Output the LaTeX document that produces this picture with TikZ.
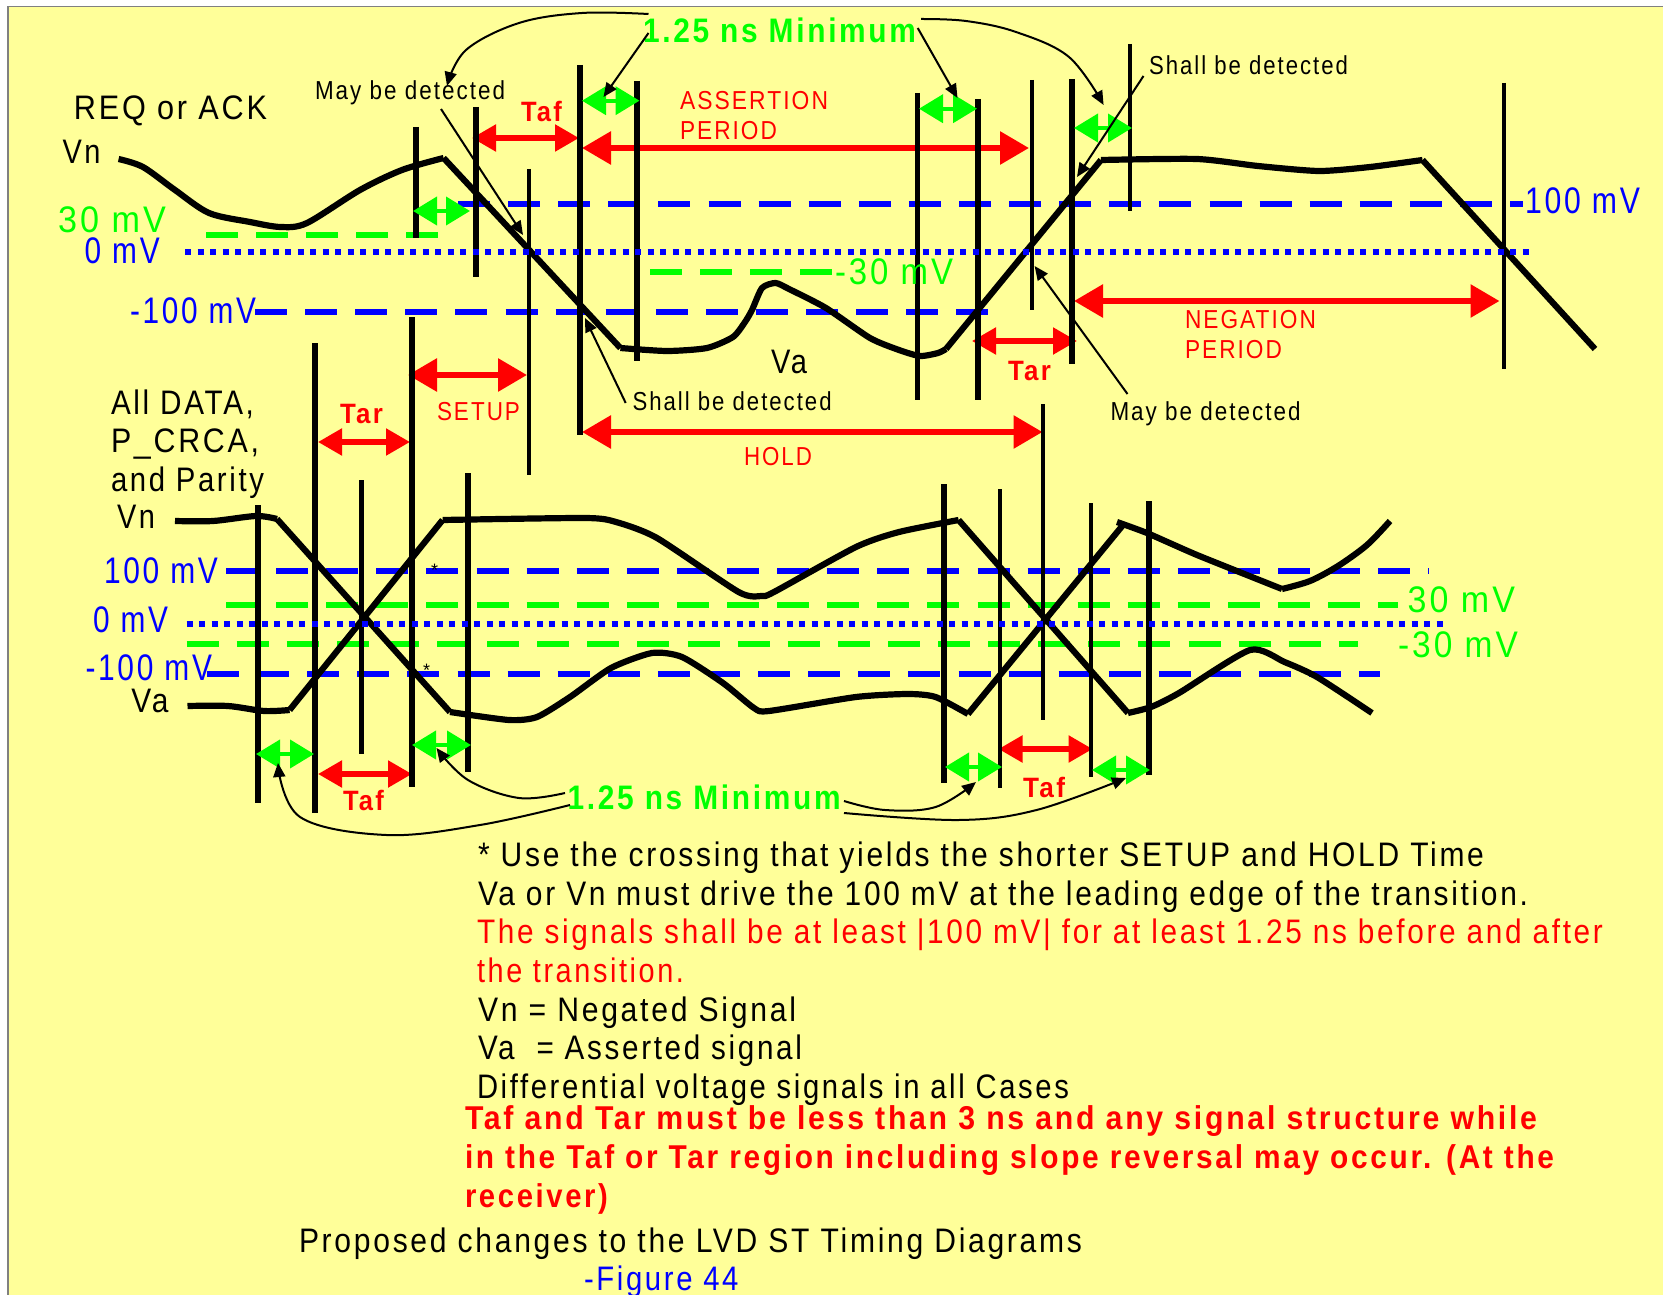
\documentclass[tikz,border=0pt]{standalone}
\usepackage{fontspec}
\usepackage{graphicx}
\usetikzlibrary{arrows.meta}
\setmainfont{Liberation Sans}
\newfontfamily\sigfont{Liberation Sans}[LetterSpace=9]
\newcommand{\fxl}{\sigfont\fontsize{37}{40}\selectfont}
\newcommand{\fl}{\sigfont\fontsize{34}{36}\selectfont}
\newcommand{\fm}{\sigfont\fontsize{26}{28}\selectfont}
\newcommand{\fbl}{\sigfont\bfseries\fontsize{34}{36}\selectfont}
\newcommand{\fbm}{\sigfont\bfseries\fontsize{28}{32}\selectfont}
\newcommand{\fbt}{\sigfont\bfseries\fontsize{33}{36}\selectfont}
\definecolor{paper}{HTML}{FFFF99}
\definecolor{bluel}{HTML}{0000FF}
\definecolor{greenl}{HTML}{00FF00}
\definecolor{redl}{HTML}{FF0000}
\tikzset{
  txt/.style={anchor=base west,inner sep=0pt,outer sep=0pt},
  bluedash/.style={draw=bluel,line width=6.5pt,dash pattern=on 32pt off 18.1pt},
  greendash/.style={draw=greenl,line width=6pt,dash pattern=on 32pt off 18.1pt},
  bluedot/.style={draw=bluel,line width=5.5pt,dash pattern=on 6.3pt off 6.2pt},
  vthick/.style={draw=black,line width=5.5pt},
  vmid/.style={draw=black,line width=4.3pt},
  vthin/.style={draw=black,line width=3.5pt},
  sig/.style={draw=black,line width=6.2pt,line join=round},
  greenarr/.style={draw=greenl,line width=4pt,{Triangle[length=24pt,width=28pt]}-{Triangle[length=24pt,width=28pt]}},
  redsm/.style={draw=redl,line width=5.3pt,{Triangle[length=24pt,width=26pt]}-{Triangle[length=24pt,width=26pt]}},
  redbig/.style={draw=redl,line width=6pt,{Triangle[length=29pt,width=32pt]}-{Triangle[length=29pt,width=32pt]}},
  callout/.style={draw=black,line width=2pt,-{Triangle[length=14pt,width=12pt]}},
}
\newcommand{\tl}[7]{\node[txt,text=#6] (#1) at (#2,#3) {\resizebox{#4pt}{\height}{#5#7}};}
\begin{document}
\begin{tikzpicture}[x=1pt,y=-1pt]
\useasboundingbox (0,0) rectangle (1663,1295);
\fill[white] (0,0) rectangle (1663,1295);
\fill[paper] (8,7) rectangle (1663,1295);
\draw[gray,line width=1.6pt] (8,1295) -- (8,6.5) -- (1663,6.5);

% dashed levels, top
\draw[greendash] (206,234.5) -- (438,234.5);
\draw[greendash] (650,272) -- (833,272);
\draw[bluedash] (458,204) -- (1523,204);
\draw[bluedash] (255,312) -- (988,312);
% dashed levels, bottom
\draw[bluedash] (226,571) -- (1429,571);
\draw[greendash] (226,605) -- (1398,605);
\draw[greendash] (186.5,644) -- (1358,644);
\draw[bluedash] (207,674) -- (1380,674);

% red spans
\draw[redsm] (472,138) -- (579,138);
\draw[redbig] (582,148) -- (1029,148);
\draw[redbig] (408,375) -- (527,375);
\draw[redsm] (318,442) -- (410,442);
\draw[redbig] (582,432) -- (1042.5,432);
\draw[redbig] (1074,301) -- (1499.5,301);
\draw[redsm] (972,341) -- (1077,341);
\draw[redsm] (318,774) -- (412,774);
\draw[redsm] (998.5,749) -- (1092.6,749);

% verticals, top
\draw[vthick] (416,127) -- (416,238);
\draw[vthick] (476,107) -- (476,277);
\draw[vthin] (529,169) -- (529,475);
\draw[vthick] (580,65) -- (580,435);
\draw[vthick] (637,81) -- (637,361);
\draw[vthick] (917.7,93) -- (917.7,400);
\draw[vthick] (978,99) -- (978,400);
\draw[vthin] (1032,80) -- (1032,310);
\draw[vthick] (1072,79) -- (1072,364);
\draw[vthin] (1130,44) -- (1130,211);
\draw[vthin] (1504,83) -- (1504,369);
\draw[vthin] (1043,404) -- (1043,720);
% verticals, bottom
\draw[vthick] (315,343) -- (315,813);
\draw[vthick] (412,317) -- (412,787);
\draw[vthick] (258,505) -- (258,803);
\draw[vmid] (361.5,480) -- (361.5,754);
\draw[vthick] (468,473) -- (468,772);
\draw[vthick] (944,484) -- (944,783);
\draw[vmid] (1000,489) -- (1000,788);
\draw[vmid] (1091,503) -- (1091,777);
\draw[vthick] (1149,501) -- (1149,775);

% signals, top
\draw[sig] plot[smooth,tension=.5] coordinates {(118.6,159) (143,167) (175,190) (209,213) (250,222) (280.6,227) (307,223) (360,190) (402,170) (443.6,158)};
\draw[sig] (443.6,158) -- (620.4,348);
\draw[sig] plot[smooth,tension=.4] coordinates {(620.4,348) (667,351) (707,348) (733,337) (745,322) (752,310) (762,288) (775.5,283) (789,289) (826,308) (870,338) (899,350) (920,356) (938,353) (946,349)};
\draw[sig] (946,349) -- (1101,160);
\draw[sig] plot[smooth,tension=.4] coordinates {(1101,160) (1197,159) (1258,166) (1319,171) (1370,167) (1422.5,160)};
\draw[sig] (1422.5,160) -- (1595,349);
% signals, bottom
\draw[sig] plot[smooth,tension=.5] coordinates {(175,521) (213,521) (256,516) (277,519)};
\draw[sig] (277,519) -- (450,712);
\draw[sig] plot[smooth,tension=.4] coordinates {(450,712) (509,720) (537,717) (570,697) (611,668) (652,653) (682,657) (723,683) (754,708) (769,711) (856,697) (908,694) (935.6,697) (968,714)};
\draw[sig] (968,714) -- (1123,525);
\draw[sig] plot[smooth,tension=.3] coordinates {(1117,522) (1147,533) (1197,555) (1282,589)};
\draw[sig] plot[smooth,tension=.5] coordinates {(1282,589) (1310,581) (1338,566) (1367,545) (1390,521)};
\draw[sig] plot[smooth,tension=.5] coordinates {(187.5,706) (228,706) (264,711) (289.6,710)};
\draw[sig] (289.6,710) -- (442.6,520);
\draw[sig] plot[smooth,tension=.4] coordinates {(442.6,520) (585,518) (616,522) (657,538) (738.6,592) (761.5,596) (774,592) (856,547) (899,532) (958.6,520)};
\draw[sig] (958.6,520) -- (1128,713);
\draw[sig] plot[smooth,tension=.4] coordinates {(1128,713) (1151,707) (1179,693) (1250,650) (1284.5,662) (1317,677) (1372,713)};

% zero levels
\draw[bluedot] (185,252) -- (1530,252);
\draw[bluedot] (186.5,624) -- (1443,624);

% green spans
\draw[greenarr] (413,211) -- (470,211);
\draw[greenarr] (582,100.7) -- (639.5,100.7);
\draw[greenarr] (919,108.7) -- (977,108.7);
\draw[greenarr] (1074,128) -- (1132,128);
\draw[greenarr] (256,754) -- (314,754);
\draw[greenarr] (412,745) -- (471,745);
\draw[greenarr] (945,767) -- (1002,767);
\draw[greenarr] (1092,770) -- (1150,770);

% text
\tl{reqack}{74}{120}{193}{\fl}{black}{REQ or ACK}
\tl{vnA}{62.5}{164}{38}{\fl}{black}{Vn}
\tl{vaA}{771}{373}{36}{\fl}{black}{Va}
\tl{p30A}{58}{232.7}{108}{\fxl}{greenl}{30 mV}
\tl{z0A}{84.7}{263}{75}{\fxl}{bluel}{0 mV}
\tl{m100A}{130}{323}{126}{\fxl}{bluel}{-100 mV}
\tl{p100A}{1525}{213}{115}{\fxl}{bluel}{100 mV}
\tl{m30A}{835}{284}{118}{\fxl}{greenl}{-30 mV}
\tl{mayA}{315}{100}{190}{\fm}{black}{May be detected}
\tl{shallA}{1149}{75}{199}{\fm}{black}{Shall be detected}
\tl{shallB}{632.6}{410.6}{199}{\fm}{black}{Shall be detected}
\tl{mayB}{1110.5}{420}{190}{\fm}{black}{May be detected}
\tl{tafA}{521}{122}{41}{\fbm}{redl}{Taf}
\tl{tarA}{340}{423}{43}{\fbm}{redl}{Tar}
\tl{tarB}{1008}{380}{43}{\fbm}{redl}{Tar}
\tl{tafB}{343}{810}{41}{\fbm}{redl}{Taf}
\tl{tafC}{1023}{797}{42}{\fbm}{redl}{Taf}
\tl{minA}{643}{43}{273}{\fbl}{greenl}{1.25 ns Minimum}
\tl{minB}{567.6}{809}{273}{\fbl}{greenl}{1.25 ns Minimum}
\tl{assert}{680}{110}{148}{\fm}{redl}{ASSERTION}
\tl{perA}{680}{140}{97}{\fm}{redl}{PERIOD}
\tl{negat}{1185}{328}{131}{\fm}{redl}{NEGATION}
\tl{perB}{1185}{358}{97}{\fm}{redl}{PERIOD}
\tl{setup}{437}{420}{83}{\fm}{redl}{SETUP}
\tl{hold}{744}{465}{68}{\fm}{redl}{HOLD}
\tl{alld}{111}{414}{143}{\fl}{black}{All DATA,}
\tl{pcrca}{111}{452}{148}{\fl}{black}{P\_CRCA,}
\tl{parity}{111}{491}{153}{\fl}{black}{and Parity}
\tl{vnB}{117}{528}{38}{\fl}{black}{Vn}
\tl{vaB}{131.4}{712}{37}{\fl}{black}{Va}
\tl{p100B}{104}{583}{114}{\fxl}{bluel}{100 mV}
\tl{z0B}{93}{632}{75}{\fxl}{bluel}{0 mV}
\tl{m100B}{85.5}{680}{126.5}{\fxl}{bluel}{-100 mV}
\tl{p30B}{1407.6}{612}{107.4}{\fxl}{greenl}{30 mV}
\tl{m30B}{1398}{657}{120}{\fxl}{greenl}{-30 mV}
\node[txt,text=black,font=\sigfont\fontsize{18}{20}\selectfont] (starA) at (431,576) {*};
\node[txt,text=black,font=\sigfont\fontsize{18}{20}\selectfont] (starB) at (423,676) {*};
\tl{noteA}{478}{866}{1006}{\fl}{black}{* Use the crossing that yields the shorter SETUP and HOLD Time}
\tl{noteB}{478}{905}{1050}{\fl}{black}{Va or Vn must drive the 100 mV at the leading edge of the transition.}
\tl{noteC}{477}{943}{1126}{\fl}{redl}{The signals shall be at least |100 mV| for at least 1.25 ns before and after}
\tl{noteD}{477}{982}{207}{\fl}{redl}{the transition.}
\tl{noteE}{478}{1021}{318}{\fl}{black}{Vn = Negated Signal}
\tl{noteF}{478}{1059}{324}{\fl}{black}{Va\ \ = Asserted signal}
\tl{noteG}{477}{1098}{592}{\fl}{black}{Differential voltage signals in all Cases}
\tl{boldA}{465}{1129}{1072}{\fbt}{redl}{Taf and Tar must be less than 3 ns and any signal structure while}
\tl{boldB}{465}{1168}{1089}{\fbt}{redl}{in the Taf or Tar region including slope reversal may occur. (At the}
\tl{boldC}{465}{1207}{143}{\fbt}{redl}{receiver)}
\tl{propo}{299}{1252}{783}{\fl}{black}{Proposed changes to the LVD ST Timing Diagrams}
\tl{figure}{584}{1290}{154.5}{\fl}{bluel}{-Figure 44}

% callouts
\draw[callout] plot[smooth,tension=.6] coordinates {(648.5,14) (582,13) (519,23) (466,50) (447,86)};
\draw[callout] (648.5,33) -- (603.5,97);
\draw[callout] plot[smooth,tension=.6] coordinates {(921,19) (966,21) (1016,32) (1069,57) (1103.6,105)};
\draw[callout] (917.7,28) -- (957.5,98);
\draw[callout] (1143.5,76) -- (1077,177);
\draw[callout] (1127.5,394) -- (1034.6,266);
\draw[callout] (625.7,403) -- (585,318);
\draw[callout] (441,109) -- (523,235);
\draw[callout] plot[smooth,tension=.6] coordinates {(565,793) (519,798) (468,780) (436.5,748)};
\draw[callout] plot[smooth,tension=.6] coordinates {(570,805) (480,825) (386.5,835) (300,817) (278,763)};
\draw[callout] plot[smooth,tension=.6] coordinates {(844,801) (885,810) (935.6,807) (976,782)};
\draw[callout] plot[smooth,tension=.6] coordinates {(844,813) (958.6,820) (1036.6,810) (1126,778)};
\end{tikzpicture}
\end{document}
